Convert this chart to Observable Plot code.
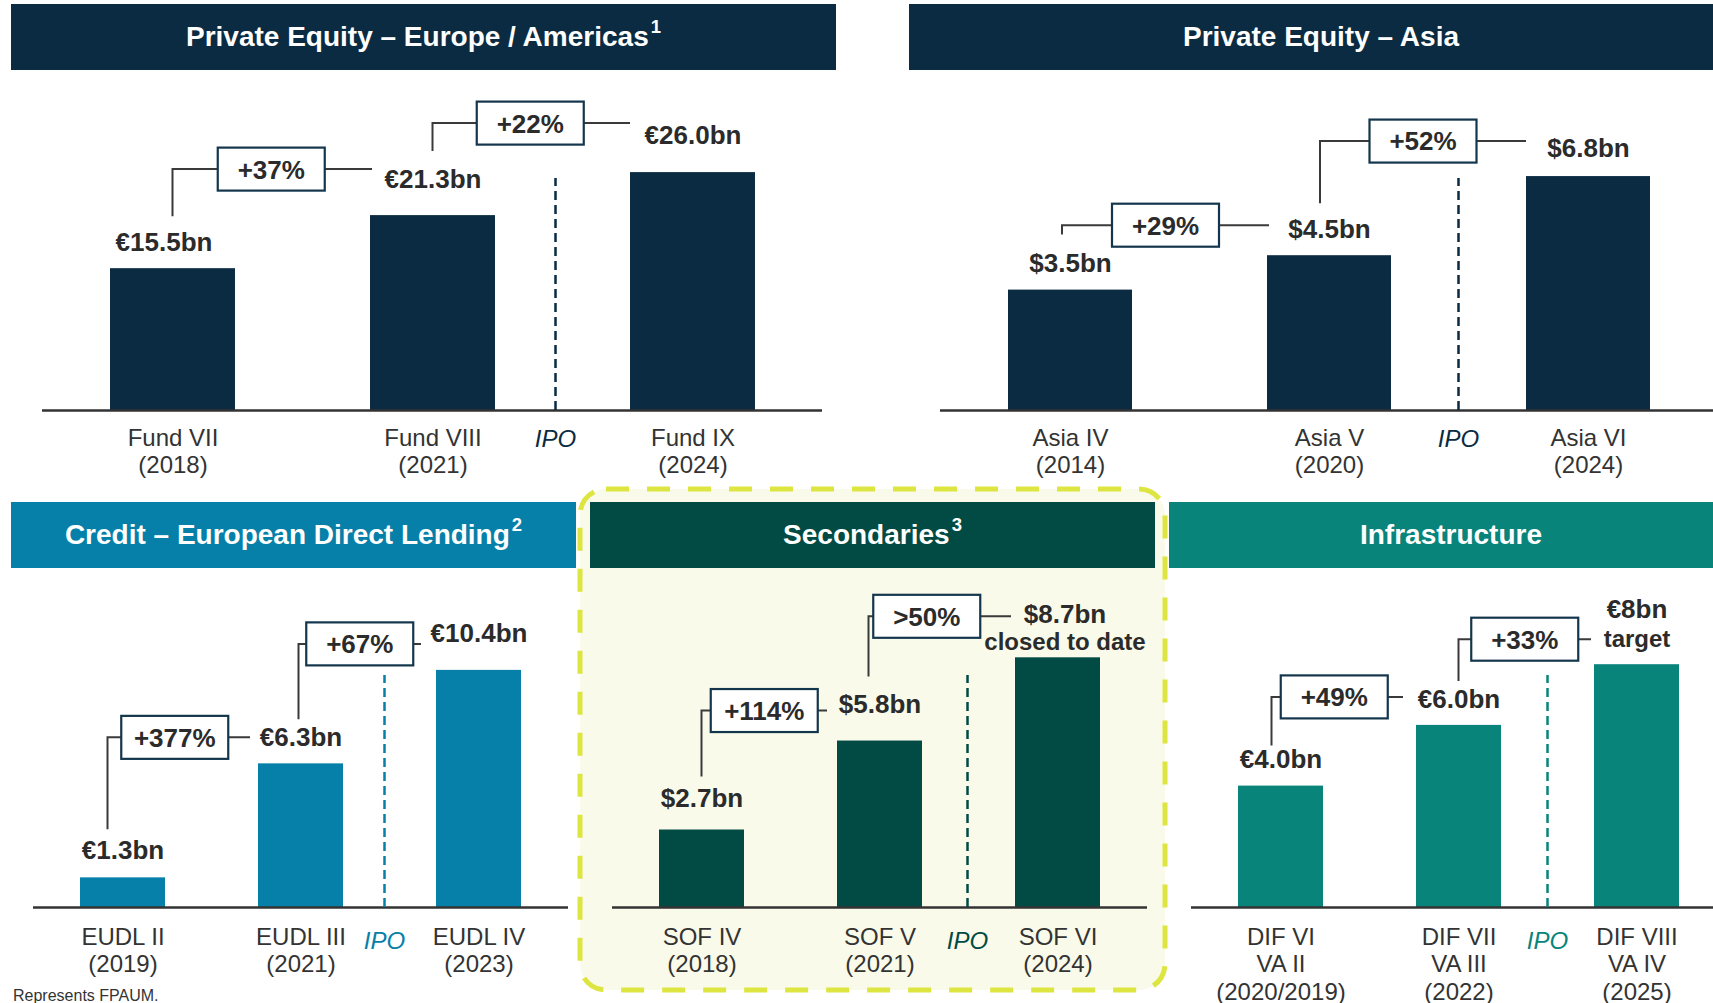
<!DOCTYPE html>
<html>
<head>
<meta charset="utf-8">
<script src="https://cdn.jsdelivr.net/npm/d3@7"></script>
<script src="https://cdn.jsdelivr.net/npm/@observablehq/plot@0.6"></script>
<style>
  html, body { margin: 0; padding: 0; background: #fff; }
  body { width: 1713px; height: 1003px; overflow: hidden; position: relative;
         font-family: "Liberation Sans", Arial, Helvetica, sans-serif; }
  .hdr { position: absolute; color: #fff; font-weight: bold; font-size: 28px;
         display: flex; align-items: center; justify-content: center; white-space: nowrap; }
  .hdr sup { font-size: 0.66em; vertical-align: 0; position: relative; top: -0.55em; margin-left: 2px; line-height: 0; }
  .panel { position: absolute; }
  .panel svg { display: block; max-width: none; }
  #foot { position: absolute; left: 13px; top: 986px; font-size: 16px; line-height: 20px; color: #333; }
</style>
</head>
<body>
<svg id="deco" width="1713" height="1003" style="position:absolute;left:0;top:0"></svg>
<div id="root"></div>
<div id="foot">Represents FPAUM.</div>
<script>
// ---------------- DATA ----------------
const panelTitles = [
  "Private Equity – Europe / Americas<sup>1</sup>",
  "Private Equity – Asia",
  "Credit – European Direct Lending<sup>2</sup>",
  "Secondaries<sup>3</sup>",
  "Infrastructure"
];

// Private Equity – Europe / Americas
const peEuropeFunds  = ["Fund VII", "Fund VIII", "Fund IX"];
const peEuropeYears  = ["(2018)", "(2021)", "(2024)"];
const peEuropeSize   = [15.5, 21.3, 26.0];
const peEuropeLabels = ["€15.5bn", "€21.3bn", "€26.0bn"];
const peEuropeNotes  = ["", "", ""];
const peEuropeGrowth = ["+37%", "+22%"];

// Private Equity – Asia
const peAsiaFunds  = ["Asia IV", "Asia V", "Asia VI"];
const peAsiaYears  = ["(2014)", "(2020)", "(2024)"];
const peAsiaSize   = [3.5, 4.5, 6.8];
const peAsiaLabels = ["$3.5bn", "$4.5bn", "$6.8bn"];
const peAsiaNotes  = ["", "", ""];
const peAsiaGrowth = ["+29%", "+52%"];

// Credit – European Direct Lending
const creditFunds  = ["EUDL II", "EUDL III", "EUDL IV"];
const creditYears  = ["(2019)", "(2021)", "(2023)"];
const creditSize   = [1.3, 6.3, 10.4];
const creditLabels = ["€1.3bn", "€6.3bn", "€10.4bn"];
const creditNotes  = ["", "", ""];
const creditGrowth = ["+377%", "+67%"];

// Secondaries
const secFunds  = ["SOF IV", "SOF V", "SOF VI"];
const secYears  = ["(2018)", "(2021)", "(2024)"];
const secSize   = [2.7, 5.8, 8.7];
const secLabels = ["$2.7bn", "$5.8bn", "$8.7bn"];
const secNotes  = ["", "", "closed to date"];
const secGrowth = ["+114%", ">50%"];

// Infrastructure
const infraFunds    = ["DIF VI", "DIF VII", "DIF VIII"];
const infraVehicles = ["VA II", "VA III", "VA IV"];
const infraYears    = ["(2020/2019)", "(2022)", "(2025)"];
const infraSize     = [4.0, 6.0, 8.0];
const infraLabels   = ["€4.0bn", "€6.0bn", "€8bn"];
const infraNotes    = ["", "", "target"];
const infraGrowth   = ["+49%", "+33%"];

const ipoLabel = "IPO";

// ---------------- LAYOUT / STYLE ----------------
const colors = { navy: "#0a2b41", blue: "#0680a8", green: "#014b44", teal: "#08847a" };

const headers = [
  { left: 11,   top: 4,   width: 825, height: 66, bg: colors.navy },
  { left: 909,  top: 4,   width: 824, height: 66, bg: colors.navy },
  { left: 11,   top: 502, width: 565, height: 66, bg: colors.blue },
  { left: 590,  top: 502, width: 565, height: 66, bg: colors.green },
  { left: 1169, top: 502, width: 564, height: 66, bg: colors.teal }
];

const panels = [
  { funds: peEuropeFunds, ticks: peEuropeFunds.map((f, i) => f + "\n" + peEuropeYears[i]),
    values: peEuropeSize, labels: peEuropeLabels, notes: peEuropeNotes, growth: peEuropeGrowth,
    color: colors.navy,
    L: { left: 0, top: 70, width: 856, height: 420, baseline: 410, mL: 42, mR: 34, k: 9.15, tickPad: 16, ipoOff: 28, ipoDx: -7,
         labelDy: [-26, -36, -37], labelDx: [-9, 0, 0], noteDy: -22,
         br: [{s: -52, e: -46, dx: 0, xe: 2, bx: -1}, {s: -64, e: -49, dx: 0, xe: 0, bx: -1}] } },
  { funds: peAsiaFunds, ticks: peAsiaFunds.map((f, i) => f + "\n" + peAsiaYears[i]),
    values: peAsiaSize, labels: peAsiaLabels, notes: peAsiaNotes, growth: peAsiaGrowth,
    color: colors.navy,
    L: { left: 880, top: 70, width: 853, height: 420, baseline: 410, mL: 60, mR: 15, k: 34.4, tickPad: 16, ipoOff: 28, ipoDx: 0,
         labelDy: [-26, -26, -28], labelDx: [0, 0, 0], noteDy: -22,
         br: [{s: -55, e: -30, dx: -8, xe: 2, bx: 0}, {s: -52, e: -35, dx: -9, xe: 0, bx: 0}] } },
  { funds: creditFunds, ticks: creditFunds.map((f, i) => f + "\n" + creditYears[i]),
    values: creditSize, labels: creditLabels, notes: creditNotes, growth: creditGrowth,
    color: colors.blue,
    L: { left: 0, top: 568, width: 578, height: 435, baseline: 907, mL: 33, mR: 10, k: 22.8, tickPad: 18, ipoOff: 33, ipoDx: -5,
         labelDy: [-27, -26, -37], labelDx: [0, 0, 0], noteDy: -22,
         br: [{s: -48, e: -26, dx: -15, xe: -8, bx: -4}, {s: -44, e: -26, dx: -2, xe: -15, bx: 0}] } },
  { funds: secFunds, ticks: secFunds.map((f, i) => f + "\n" + secYears[i]),
    values: secSize, labels: secLabels, notes: secNotes, growth: secGrowth,
    color: colors.green,
    L: { left: 582, top: 568, width: 581, height: 435, baseline: 907, mL: 30, mR: 16, k: 28.7, tickPad: 18, ipoOff: 33, ipoDx: -1,
         labelDy: [-31, -36, -43], labelDx: [0, 0, 7], noteDy: -15,
         br: [{s: -53, e: -30, dx: 0, xe: -10, bx: 0}, {s: -64, e: -41, dx: -11, xe: -4, bx: -13}] } },
  { funds: infraFunds, ticks: infraFunds.map((f, i) => f + "\n" + infraVehicles[i] + "\n" + infraYears[i]),
    values: infraSize, labels: infraLabels, notes: infraNotes, growth: infraGrowth,
    color: colors.teal,
    L: { left: 1168, top: 568, width: 565, height: 435, baseline: 907, mL: 23, mR: 7, k: 30.35, tickPad: 18, ipoOff: 33, ipoDx: 0,
         labelDy: [-26, -26, -55], labelDx: [0, 0, 0], noteDy: -25,
         br: [{s: -40, e: -28, dx: -9, xe: -13, bx: -3}, {s: -44, e: -25, dx: 0, xe: -3, bx: 0}] } }
];

// ---------------- DECORATION ----------------
const deco = d3.select("#deco");
deco.append("rect")
  .attr("x", 580).attr("y", 489).attr("width", 585).attr("height", 501)
  .attr("rx", 26).attr("ry", 26)
  .attr("fill", "#f9faea").attr("stroke", "#dde541").attr("stroke-width", 5)
  .attr("stroke-dasharray", "23 18");

const root = document.getElementById("root");
headers.forEach((h, i) => {
  const d = document.createElement("div");
  d.className = "hdr";
  Object.assign(d.style, { left: h.left + "px", top: h.top + "px", width: h.width + "px", height: h.height + "px", background: h.bg });
  d.innerHTML = panelTitles[i];
  root.appendChild(d);
});

// ---------------- PANELS ----------------
function buildPanel(p) {
  const L = p.L;
  const rows = p.funds.map((f, i) => ({ fund: f, tick: p.ticks[i], value: p.values[i], label: p.labels[i], note: p.notes[i] }));
  const base = L.baseline - L.top;
  const ymax = base / L.k;
  const tickMap = new Map(rows.map(r => [r.fund, r.tick]));

  const annotations = (index, scales) => {
    const sx = scales.x, sy = scales.y;
    const bw = typeof sx.bandwidth === "function" ? sx.bandwidth() : sx.bandwidth;
    const g = d3.create("svg:g");
    const y0 = sy(0);
    // IPO divider
    const ix = (sx(p.funds[1]) + bw + sx(p.funds[2])) / 2 + L.ipoDx;
    g.append("line").attr("x1", ix).attr("x2", ix).attr("y1", y0).attr("y2", y0 - 232)
      .attr("stroke", p.color).attr("stroke-width", 2.5).attr("stroke-dasharray", "9 5");
    g.append("text").attr("x", ix).attr("y", y0 + L.ipoOff + 8.6)
      .attr("text-anchor", "middle").attr("font-size", 24).attr("font-style", "italic")
      .attr("fill", p.color).text(ipoLabel);
    // growth brackets
    p.growth.forEach((txt, i) => {
      const b = L.br[i];
      const vx = sx(p.funds[i]) + bw / 2 + b.dx;
      const ys = sy(p.values[i]) + b.s;
      const yl = sy(p.values[i + 1]) + b.e;
      const xe = sx(p.funds[i + 1]) + b.xe;
      g.append("path").attr("d", `M${vx},${ys}V${yl}H${xe}`)
        .attr("fill", "none").attr("stroke", "#3a3a3a").attr("stroke-width", 2);
      const cx = (vx + xe) / 2 + b.bx, w = 107, h = 43;
      g.append("rect").attr("x", cx - w / 2).attr("y", yl - h / 2).attr("width", w).attr("height", h)
        .attr("fill", "#fff").attr("stroke", "#14364d").attr("stroke-width", 2.2);
      g.append("text").attr("x", cx).attr("y", yl + 9.4).attr("text-anchor", "middle")
        .attr("font-size", 26).attr("font-weight", "bold").attr("fill", "#2b2b2b").text(txt);
    });
    return g.node();
  };

  const marks = [
    Plot.barY(rows, { x: "fund", y: "value", fill: p.color }),
    Plot.ruleY([0], { stroke: "#333", strokeWidth: 2.5 }),
    Plot.axisX({ tickSize: 0, tickPadding: L.tickPad, fontSize: 24, lineHeight: 1.14, color: "#333",
                 label: null, tickFormat: d => tickMap.get(d) }),
    ...rows.map((r, i) => Plot.text([r], { x: "fund", y: "value", text: "label", dy: L.labelDy[i], dx: L.labelDx[i],
                 fontSize: 26, fontWeight: "bold", fill: "#2b2b2b" })),
    Plot.text(rows.filter(r => r.note), { x: "fund", y: "value", text: "note", dy: L.noteDy, dx: L.labelDx[2],
                 fontSize: 24, fontWeight: "bold", fill: "#2b2b2b" }),
    annotations
  ];

  return Plot.plot({
    width: L.width, height: L.height,
    marginLeft: L.mL, marginRight: L.mR, marginTop: 0, marginBottom: L.height - base,
    x: { domain: p.funds, paddingInner: 0.52, paddingOuter: 0.26, label: null },
    y: { domain: [0, ymax], axis: null, label: null },
    style: { background: "transparent", fontFamily: "'Liberation Sans', Arial, sans-serif", overflow: "visible" },
    marks
  });
}

panels.forEach(p => {
  const div = document.createElement("div");
  div.className = "panel";
  Object.assign(div.style, { left: p.L.left + "px", top: p.L.top + "px", width: p.L.width + "px", height: p.L.height + "px" });
  div.appendChild(buildPanel(p));
  root.appendChild(div);
});
</script>
</body>
</html>
